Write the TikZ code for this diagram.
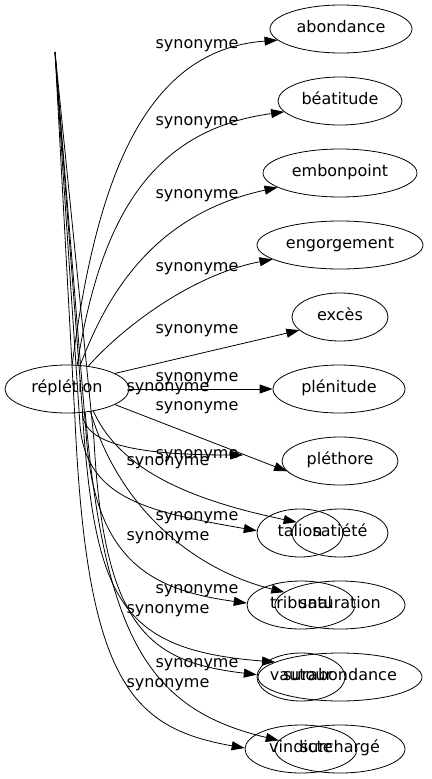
\documentclass[tikz,border=0pt]{standalone}
\usepackage{fontspec}
\setmainfont{DejaVu Sans}
\usetikzlibrary{shapes.geometric,arrows.meta}
\begin{document}
\begin{tikzpicture}[x=1pt,y=-1pt,
  word/.style={ellipse,draw,line width=0.8pt,inner sep=0pt,minimum height=48pt,
    font=\fontsize{16}{19}\selectfont,text height=11pt,text depth=3.5pt},
  lab/.style={inner sep=0pt,font=\fontsize{16}{19}\selectfont,text height=11pt,text depth=3.5pt},
  conn/.style={line width=0.8pt,-{Triangle[length=13pt,width=9pt]}}]
\useasboundingbox (0,0) rectangle (431,779);
% nodes
\node[word,minimum width=124pt] (rep) at (67,389) {réplétion};
\node[word,minimum width=142pt] (abondance) at (341,29) {abondance};
\node[word,minimum width=124pt] (beatitude) at (340,101) {béatitude};
\node[word,minimum width=154pt] (embonpoint) at (340,173) {embonpoint};
\node[word,minimum width=166pt] (engorgement) at (340,245) {engorgement};
\node[word,minimum width=96pt] (exces) at (340,317) {excès};
\node[word,minimum width=132pt] (plenitude) at (339,389) {plénitude};
\node[word,minimum width=116pt] (plethore) at (340,461) {pléthore};
\node[word,minimum width=96pt] (satiete) at (340,533) {satiété};
\node[word,minimum width=86pt] (talion) at (300,533) {talion};
\node[word,minimum width=130pt] (saturation) at (340,605) {saturation};
\node[word,minimum width=108pt] (tribunal) at (301,605) {tribunal};
\node[word,minimum width=164pt] (surabondance) at (340,677) {surabondance};
\node[word,minimum width=82pt] (vautour) at (301,677) {vautour};
\node[word,minimum width=130pt] (surcharge) at (340,749) {surchargé};
\node[word,minimum width=112pt] (vindicte) at (301,749) {vindicte};
\coordinate (apex) at (55,52);
\coordinate (dang) at (243,455);
% edges from the node
\draw[conn] (rep.78) .. controls (95,190) and (140,50) .. (abondance.190);
\draw[conn] (rep.67) .. controls (100,220) and (150,130) .. (beatitude.191);
\draw[conn] (rep.61) .. controls (105,300) and (150,215) .. (embonpoint.193);
\draw[conn] (rep.47) .. controls (120,330) and (190,275) .. (engorgement.192);
\draw[conn] (rep.18) -- (exces.198);
\draw[conn] (rep.east) -- (plenitude.west);
\draw[conn] (rep.-18) -- (plethore.191);
\draw[conn] (rep.-40) .. controls (120,470) and (190,500) .. (satiete.166);
\draw[conn] (rep.-44) .. controls (120,510) and (195,570) .. (saturation.167);
\draw[conn] (rep.-57) .. controls (95,600) and (120,650) .. (surabondance.167);
\draw[conn] (rep.-52) .. controls (105,640) and (150,710) .. (surcharge.172);
% edges from the apex
\draw[conn] (apex) -- (80,425) .. controls (86,500) and (150,512) .. (talion.177);
\draw[conn] (apex) -- (86,432) .. controls (94,560) and (150,590) .. (tribunal.178);
\draw[conn] (apex) -- (94,440) .. controls (104,630) and (150,662) .. (vautour.177);
\draw[conn] (apex) -- (75,420) .. controls (87,680) and (130,728) .. (vindicte.179);
\draw[conn] (apex) -- (83,418) .. controls (90,445) and (140,455) .. (dang);
% labels
\node[lab] (l1) at (197,45) {synonyme};
\node[lab] (l2) at (197,122) {synonyme};
\node[lab] (l3) at (197,195) {synonyme};
\node[lab] (l4) at (197,268) {synonyme};
\node[lab] (l5) at (197,330) {synonyme};
\node[lab] (l6) at (197,378) {synonyme};
\node[lab] (l7) at (197,407) {synonyme};
\node[lab] (l8) at (197,455) {synonyme};
\node[lab] (l9) at (197,517) {synonyme};
\node[lab] (l10) at (197,590) {synonyme};
\node[lab] (l11) at (197,664) {synonyme};
\node[lab] (m1) at (168,388) {synonyme};
\node[lab] (m2) at (168,462) {synonyme};
\node[lab] (m3) at (168,537) {synonyme};
\node[lab] (m4) at (168,610) {synonyme};
\node[lab] (m5) at (168,684) {synonyme};
\end{tikzpicture}
\end{document}
